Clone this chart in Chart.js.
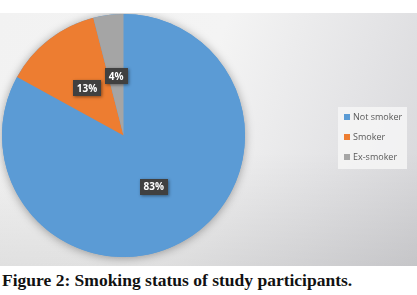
<!DOCTYPE html>
<html>
<head>
<meta charset="utf-8">
<script src="https://cdn.jsdelivr.net/npm/chart.js@4/dist/chart.umd.min.js"></script>
<style>
  html, body { margin: 0; padding: 0; background: #ffffff; width: 417px; height: 295px; overflow: hidden; }
  #wrap { position: absolute; left: 0; top: 13px; width: 417px; height: 253px;
    background: linear-gradient(110deg, #f2f2f2 0%, #f4f4f4 45%, #e4e4e6 75%, #d6d6d9 100%); }
  #shade { position: absolute; left: 0; top: 0; width: 417px; height: 253px;
    background: linear-gradient(180deg, rgba(0,0,0,0) 55%, rgba(0,0,0,0.08) 100%); }
  #chart { position: absolute; left: 0; top: 0; }
  #caption { position: absolute; left: 2px; top: 270px; font-family: "Liberation Serif", "DejaVu Serif", serif;
    font-weight: bold; font-size: 17.5px; line-height: 20px; color: #111; white-space: nowrap; }
</style>
</head>
<body>
<div id="wrap"><div id="shade"></div><canvas id="chart" width="417" height="253"></canvas></div>
<div id="caption">Figure 2: Smoking status of study participants.</div>
<script>
const categories = ["Not smoker", "Smoker", "Ex-smoker"];
const percentages = [83, 13, 4];
const sliceColors = ["#5b9bd5", "#ed7d31", "#a5a5a5"];

const pieShadow = {
  id: 'pieShadow',
  beforeDatasetsDraw(chart) {
    const arc = chart.getDatasetMeta(0).data[0];
    if (!arc) return;
    const ctx = chart.ctx;
    ctx.save();
    ctx.shadowColor = 'rgba(0,0,0,0.35)';
    ctx.shadowBlur = 10;
    ctx.shadowOffsetX = 0;
    ctx.shadowOffsetY = 1;
    ctx.fillStyle = '#5b9bd5';
    ctx.beginPath();
    ctx.arc(arc.x, arc.y, arc.outerRadius, 0, Math.PI * 2);
    ctx.fill();
    ctx.restore();
  }
};

const labelBoxes = {
  id: 'labelBoxes',
  afterDatasetsDraw(chart) {
    const ctx = chart.ctx;
    const meta = chart.getDatasetMeta(0);
    const vals = chart.data.datasets[0].data;
    ctx.save();
    ctx.font = 'bold 10px "Open Sans", "Liberation Sans", sans-serif';
    ctx.textAlign = 'center';
    ctx.textBaseline = 'middle';
    meta.data.forEach((arc, i) => {
      const mid = (arc.startAngle + arc.endAngle) / 2;
      const r = arc.outerRadius * 0.49;
      const x = arc.x + Math.cos(mid) * r;
      const y = arc.y + Math.sin(mid) * r;
      const txt = vals[i] + '%';
      const w = ctx.measureText(txt).width + 8;
      const h = 16;
      ctx.save();
      ctx.shadowColor = 'rgba(0,0,0,0.45)';
      ctx.shadowBlur = 3;
      ctx.shadowOffsetX = 1;
      ctx.shadowOffsetY = 1;
      ctx.fillStyle = '#404040';
      ctx.fillRect(Math.round(x - w / 2), Math.round(y - h / 2), Math.round(w), h);
      ctx.restore();
      ctx.fillStyle = '#ffffff';
      ctx.fillText(txt, x, y + 0.5);
    });
    ctx.restore();
  }
};

const customLegend = {
  id: 'customLegend',
  afterDraw(chart) {
    const ctx = chart.ctx;
    const labels = chart.data.labels;
    const colors = chart.data.datasets[0].backgroundColor;
    ctx.save();
    ctx.fillStyle = 'rgba(246,246,246,0.85)';
    ctx.fillRect(338, 94, 69, 62);
    ctx.font = '9px "Open Sans", "Liberation Sans", sans-serif';
    ctx.textBaseline = 'middle';
    ctx.textAlign = 'left';
    labels.forEach((lab, i) => {
      const y = 104 + i * 20;
      ctx.fillStyle = colors[i];
      ctx.fillRect(344, y - 3, 6, 6);
      ctx.fillStyle = '#595959';
      ctx.fillText(lab, 353, y);
    });
    ctx.restore();
  }
};

new Chart(document.getElementById('chart'), {
  type: 'pie',
  data: {
    labels: categories,
    datasets: [{
      data: percentages,
      backgroundColor: sliceColors,
      borderWidth: 0
    }]
  },
  options: {
    responsive: false,
    animation: false,
    layout: { padding: { top: 1, bottom: 9, left: 2, right: 172 } },
    plugins: {
      legend: { display: false },
      tooltip: { enabled: false }
    }
  },
  plugins: [pieShadow, labelBoxes, customLegend]
});
</script>
</body>
</html>
